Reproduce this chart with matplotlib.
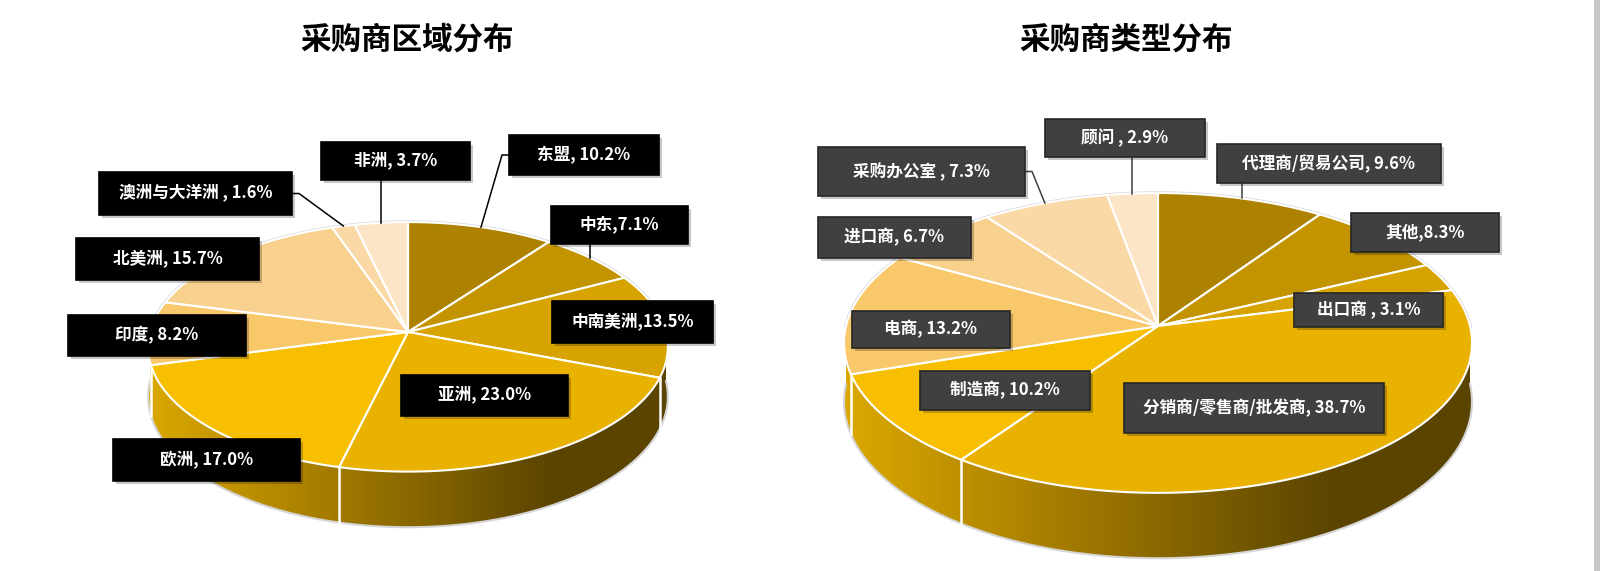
import numpy as np
import matplotlib.pyplot as plt
from matplotlib.patches import Polygon, Rectangle
from matplotlib.colors import LinearSegmentedColormap

plt.rcParams['font.family'] = ['Noto Sans CJK SC', 'DejaVu Sans']

# 采购商区域分布
region_names = ['东盟', '中东', '中南美洲', '亚洲', '欧洲', '印度', '北美洲', '澳洲与大洋洲', '非洲']
region_values = [10.2, 7.1, 13.5, 23.0, 17.0, 8.2, 15.7, 1.6, 3.7]
region_seps = [', ', ',', ',', ', ', ', ', ', ', ', ', ' , ', ', ']

# 采购商类型分布
type_names = ['代理商/贸易公司', '其他', '出口商', '分销商/零售商/批发商', '制造商',
              '电商', '进口商', '采购办公室', '顾问']
type_values = [9.6, 8.3, 3.1, 38.7, 10.2, 13.2, 6.7, 7.3, 2.9]
type_seps = [', ', ',', ' , ', ', ', ', ', ', ', ', ', ' , ', ' , ']

slice_colors = ['#AD8200', '#C39400', '#D6A300', '#E9B100', '#F8BF00',
                '#F9C86B', '#F9D18F', '#FAD9A7', '#FCE4C6']

side_cmap = LinearSegmentedColormap.from_list(
    'side', [(0, '#DBA800'), (0.35, '#A47B00'), (0.78, '#5A4400'), (1, '#5A4400')])

# label boxes (x0, x1, y0, y1) in pixels and leader style
region_boxes = [(509, 659, 135, 175), (551, 688, 206, 244), (552, 713, 301, 343),
                (401, 568, 375, 416), (113, 300, 439, 481), (68, 246, 315, 356),
                (76, 259, 238, 280), (99, 292, 172, 215), (321, 470, 142, 180)]
region_leaders = ['left', 'v', None, None, None, None, None, 'right', 'v']

type_boxes = [(1217, 1441, 144, 183), (1351, 1499, 213, 252), (1294, 1443, 293, 327),
              (1124, 1384, 383, 433), (920, 1090, 371, 410), (852, 1010, 311, 348),
              (818, 971, 217, 258), (818, 1025, 147, 196), (1045, 1205, 119, 157)]
type_leaders = ['v', None, None, None, None, None, None, 'right', 'v']


def make_proj(cx, cy, sx, sy, a):
    def proj(t):
        d = 1 + a * np.sin(t)
        return cx + sx * np.cos(t) / d, cy - sy * np.sin(t) / d
    return proj


def draw_pie(ax, values, cx, cy, sx, sy, a, h):
    proj = make_proj(cx, cy, sx, sy, a)
    frac = np.cumsum([0] + list(values)) / sum(values)
    bounds = np.pi / 2 - 2 * np.pi * frac

    # side wall with horizontal gradient
    th = np.linspace(np.pi, 2 * np.pi, 300)
    xt, yt = proj(th)
    yb = yt + h / (1 + a * np.sin(th))
    side = Polygon(np.column_stack([np.r_[xt, xt[::-1]], np.r_[yt, yb[::-1]]]),
                   closed=True, facecolor='none', edgecolor='none')
    ax.add_patch(side)
    grad = np.linspace(0, 1, 500)[None, :]
    im = ax.imshow(grad, cmap=side_cmap, extent=(xt.min(), xt.max(), yb.max(), yt.min()),
                   aspect='auto', interpolation='bilinear', zorder=1)
    im.set_clip_path(side)
    ax.plot(xt, yb, color='#D5D5D5', lw=1.5, zorder=1.5)

    for b in bounds[1:-1]:
        b = b % (2 * np.pi)
        if np.sin(b) < -0.1:
            x0, y0 = proj(b)
            ax.plot([x0, x0], [y0, y0 + h / (1 + a * np.sin(b))], color='white', lw=1.8, zorder=2)

    # faint glow around the back rim
    tb = np.linspace(0, np.pi, 200)
    xg, yg = proj(tb)
    ax.plot(xg, yg, color='#D5D5D5', lw=2.5, zorder=2.5)

    # top face
    for i in range(len(values)):
        t = np.linspace(bounds[i], bounds[i + 1], 120)
        x, y = proj(t)
        ax.add_patch(Polygon(np.column_stack([np.r_[cx, x], np.r_[cy, y]]), closed=True,
                             facecolor=slice_colors[i], edgecolor='white', lw=1.5,
                             joinstyle='round', zorder=3))
    mids = (bounds[:-1] + bounds[1:]) / 2
    return [proj(m) for m in mids]


def draw_labels(ax, names, values, seps, boxes, leaders, rim_pts, face, edge, line_col):
    for name, v, sep, box, lead, (rx, ry) in zip(names, values, seps, boxes, leaders, rim_pts):
        x0, x1, y0, y1 = box
        ym = (y0 + y1) / 2
        if lead == 'v':
            ax.plot([rx, rx], [y1, ry], color=line_col, lw=1.1, zorder=3.8)
        elif lead == 'left':
            ax.plot([x0, x0 - 7, rx], [ym, ym, ry], color=line_col, lw=1.1, zorder=3.8)
        elif lead == 'right':
            ax.plot([x1, x1 + 7, rx], [ym, ym, ry], color=line_col, lw=1.1, zorder=3.8)
        ax.add_patch(Rectangle((x0 + 3, y0 + 3), x1 - x0, y1 - y0, facecolor='black',
                               alpha=0.22, edgecolor='none', zorder=4))
        ax.add_patch(Rectangle((x0, y0), x1 - x0, y1 - y0, facecolor=face,
                               edgecolor=edge, lw=1.2, zorder=5))
        ax.text((x0 + x1) / 2, ym, f'{name}{sep}{v:.1f}%', ha='center', va='center',
                color='white', fontsize=12, fontweight='bold', zorder=6)


fig = plt.figure(figsize=(16, 5.71), dpi=100)
ax = fig.add_axes([0, 0, 1, 1])
ax.axis('off')

left_rim = draw_pie(ax, region_values, 408, 332, 258, 123, 0.119, 49)
right_rim = draw_pie(ax, type_values, 1158, 326, 312, 148, 0.113, 58)

draw_labels(ax, region_names, region_values, region_seps, region_boxes, region_leaders,
            left_rim, 'black', 'black', 'black')
draw_labels(ax, type_names, type_values, type_seps, type_boxes, type_leaders,
            right_rim, '#404040', '#262626', '#404040')

ax.text(407, 40, '采购商区域分布', ha='center', va='center', fontsize=22, fontweight='bold')
ax.text(1126, 40, '采购商类型分布', ha='center', va='center', fontsize=22, fontweight='bold')

fig.patches.append(Rectangle((1594 / 1600, 0), 6 / 1600, 1, transform=fig.transFigure,
                             facecolor='#C8C8C8', edgecolor='none'))

ax.set_xlim(0, 1600)
ax.set_ylim(571, 0)
fig.savefig('out.png', dpi=100)
